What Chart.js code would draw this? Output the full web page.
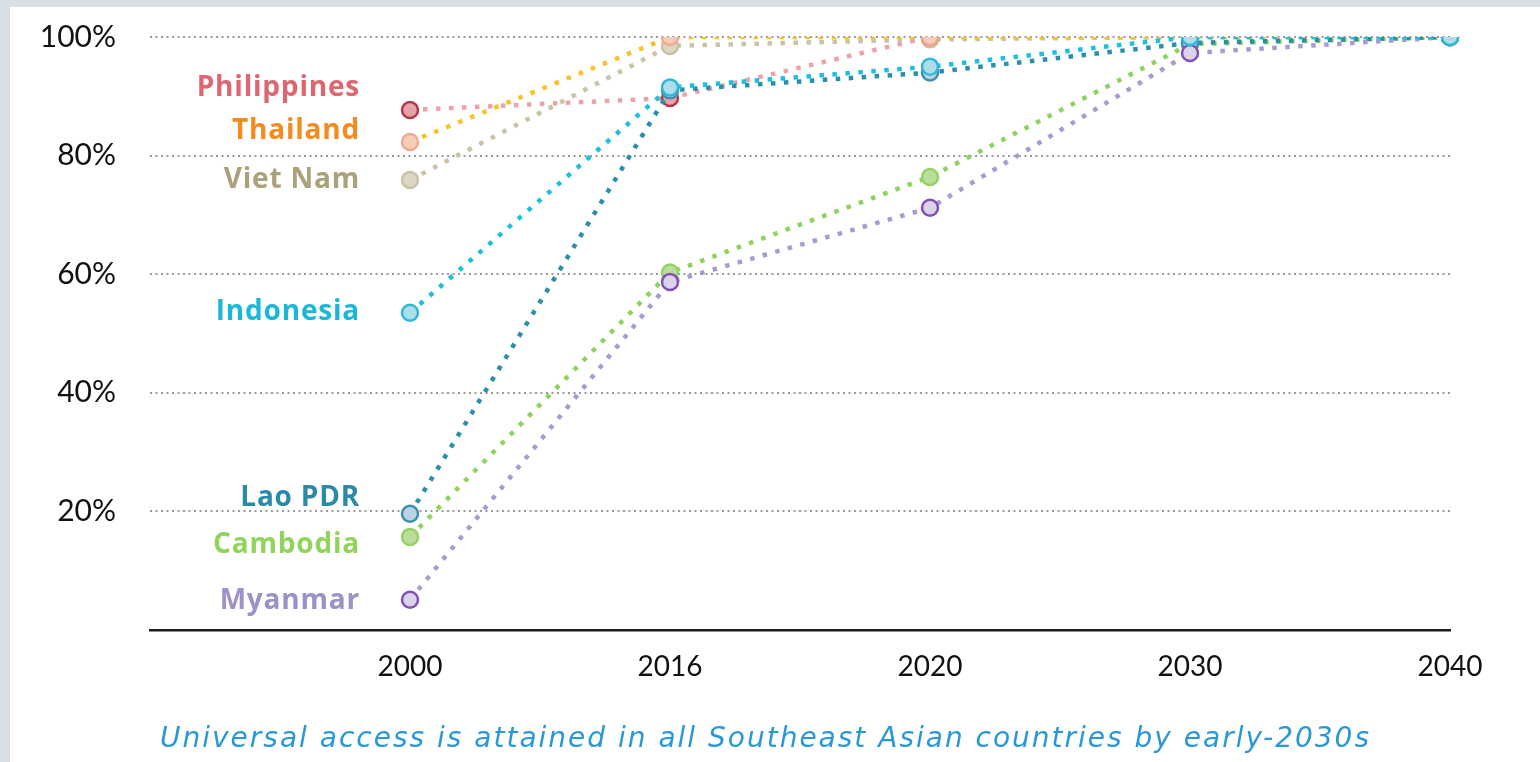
<!DOCTYPE html>
<html>
<head>
<meta charset="utf-8">
<script src="https://cdn.jsdelivr.net/npm/chart.js@4"></script>
<style>
    html, body { margin: 0; padding: 0; background: #d7e1e5; }
    #wrap {
        position: absolute;
        left: 10px; top: 7px;
        width: 1530px; height: 755px;
        background: #fff;
    }
    canvas { display: block; }
</style>
</head>
<body>
<div id="wrap"><canvas id="accessChart" width="1530" height="755"></canvas></div>
<script>
// empty first slot holds the country names
const years = ['', '2000', '2016', '2020', '2030', '2040'];
const yTicks = [0, 20, 40, 60, 80, 100];

const countries = ['Philippines', 'Thailand', 'Viet Nam', 'Indonesia', 'Lao PDR', 'Cambodia', 'Myanmar'];

const philippines = [null, 87.7, 89.7, 100, 100, 100];
const thailand = [null, 82.3, 100, 100, 100, 100];
const vietNam = [null, 75.9, 98.5, 99.6, 100, 100];
const indonesia = [null, 53.5, 91.5, 95, 100, 100];
const laoPdr = [null, 19.6, 91, 94, 99, 100];
const cambodia = [null, 15.7, 60.3, 76.4, 98.8, 100];
const myanmar = [null, 5.1, 58.7, 71.2, 97.3, 100];

// where each name sits on the value axis
const namePos = [91.4, 84.2, 75.8, 53.6, 22.3, 14.4, 4.9];

const caption = 'Universal access is attained in all Southeast Asian countries by early-2030s';

const lineColors = ['#eba3aa', '#f7c326', '#cbc4a4', '#1cc0e0', '#2a8fa9', '#8fd35f', '#a99bd2'];
const fillColors = ['#e6a4a6', '#f8cdb6', '#dbd7c2', '#acdde9', '#bcd3e4', '#bbdd9c', '#dbd3ea'];
const edgeColors = ['#b23a4a', '#f2a894', '#cbc3a4', '#2fb9d9', '#3d8fb4', '#95d266', '#8550b4'];
const nameColors = ['#dd6670', '#f58a1f', '#aba17b', '#1ab8d8', '#2b8aa8', '#90d45c', '#9c92c8'];
const drawOrder = [4, 3, 5, 0, 2, 6, 1];

const series = [philippines, thailand, vietNam, indonesia, laoPdr, cambodia, myanmar];

const countryNames = {
    id: 'countryNames',
    afterDatasetsDraw(chart) {
        const { ctx, chartArea, scales: { x, y } } = chart;
        const right = x.getPixelForValue(1) - 50;
        ctx.save();
        ctx.font = 'bold 28px "Open Sans"';
        ctx.letterSpacing = '0.8px';
        ctx.textAlign = 'right';
        ctx.textBaseline = 'middle';
        countries.forEach((name, i) => {
            ctx.fillStyle = nameColors[i];
            ctx.fillText(name, right, y.getPixelForValue(namePos[i]));
        });

        // caption under the axis
        ctx.font = 'oblique 28px "DejaVu Sans"';
        ctx.letterSpacing = '2px';
        ctx.textAlign = 'left';
        ctx.fillStyle = '#2a98d6';
        ctx.fillText(caption, chartArea.left + 10, chartArea.bottom + 110);
        ctx.restore();
    }
};

const ctx = document.getElementById('accessChart');

new Chart(ctx, {
    type: 'line',
    data: {
        labels: years,
        datasets: series.map((values, i) => ({
            label: countries[i],
            data: values,
            order: drawOrder[i],
            borderColor: lineColors[i],
            borderWidth: 4.5,
            borderDash: [4.5, 8.5],
            borderCapStyle: 'butt',
            tension: 0,
            pointRadius: 8,
            pointBorderWidth: 2.5,
            pointBackgroundColor: fillColors[i],
            pointBorderColor: edgeColors[i]
        }))
    },
    options: {
        responsive: false,
        animation: false,
        events: [],
        layout: {
            padding: { top: 30, right: 90, left: 0, bottom: 38 }
        },
        plugins: {
            legend: { display: false },
            tooltip: { enabled: false },
            title: { display: false }
        },
        scales: {
            x: {
                offset: false,
                grid: { display: false, drawTicks: false },
                border: { display: true, color: '#1e1e1e', width: 2.5 },
                ticks: {
                    padding: 20,
                    color: '#111',
                    font: { family: 'Lato', size: 28 },
                    maxRotation: 0,
                    autoSkip: false
                },
                afterFit: (scale) => { scale.height = 94; }
            },
            y: {
                min: 0,
                max: 100,
                afterBuildTicks: (scale) => { scale.ticks = yTicks.map(v => ({ value: v })); },
                grid: {
                    color: (c) => c.tick && c.tick.value === 0 ? 'rgba(0,0,0,0)' : '#9a9a9a',
                    lineWidth: 2,
                    drawTicks: false
                },
                border: { display: false, dash: [2, 3.5] },
                ticks: {
                    padding: 34,
                    color: '#111',
                    font: { family: 'Lato', size: 30 },
                    callback: (v) => v === 0 ? '' : v + '%'
                },
                afterFit: (scale) => {
                    scale.width = 140;
                    scale.paddingTop = 0;
                    scale.paddingBottom = 0;
                }
            }
        }
    },
    plugins: [countryNames]
});
</script>
</body>
</html>
